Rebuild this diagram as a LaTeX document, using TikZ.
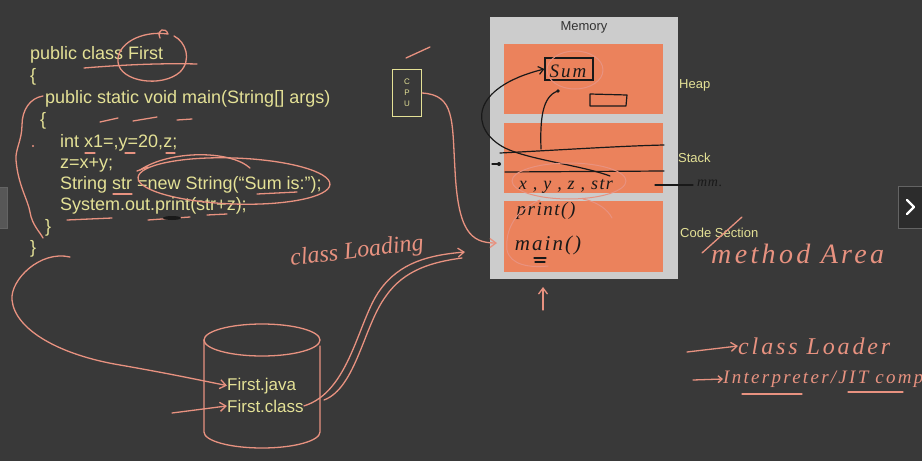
\documentclass[tikz,border=0pt]{standalone}
\usepackage{fontspec}
\setmainfont{Liberation Sans}
\newfontfamily\handfont{Liberation Serif}
\usetikzlibrary{arrows.meta}
\definecolor{bg}{RGB}{57,57,57}
\definecolor{codey}{RGB}{228,225,150}
\definecolor{memgray}{RGB}{204,204,204}
\definecolor{panelor}{RGB}{235,130,92}
\definecolor{salmon}{RGB}{232,146,128}
\definecolor{inkblack}{RGB}{25,25,25}
\definecolor{tabfill}{RGB}{44,44,44}
\definecolor{tabline}{RGB}{100,100,100}
\newcommand{\handsize}[2]{\handfont\itshape\addfontfeature{LetterSpace=#2}\fontsize{#1}{#1}\selectfont}
\tikzset{
  code/.style={anchor=base west, text=codey, font=\fontsize{18}{20}\selectfont, inner sep=0pt},
  lbl/.style={anchor=west, text=codey, font=\fontsize{13}{15}\selectfont, inner sep=0pt},
  ink/.style={draw=salmon, line width=1.3pt, line cap=round, line join=round},
  blackink/.style={draw=inkblack, line width=1.2pt, line cap=round, line join=round},
  hand/.style={text=salmon, inner sep=0pt},
  blackhand/.style={text=inkblack, inner sep=0pt},
  panelbox/.style={fill=panelor, draw=none, anchor=north west, minimum width=159pt, inner sep=0pt, outer sep=0pt},
  inkarrow/.style={-{Straight Barb[length=6pt,width=9pt]}},
}
\begin{document}
\begin{tikzpicture}[x=1pt,y=-1pt]
\useasboundingbox (0,0) rectangle (922,461);
\clip (0,0) rectangle (922,461);
\fill[bg] (0,0) rectangle (922,461);

% navigation tabs
\draw[tabline, fill=bg!85!white] (-2,187) rectangle (7,228);
\draw[tabline, fill=tabfill] (898,186) rectangle (924,228);
\draw[white, line width=2.2pt, line cap=round, line join=round] (907,200) -- (914,207) -- (907,214);

% ---------------- code ----------------
\node[code] (l1) at (30,59) {public class First};
\node[code] (l2) at (30,81) {\{};
\node[code] (l3) at (45,103) {public static void main(String[] args)};
\node[code] (l4) at (40,125) {\{};
\node[code] (l5) at (60,147) {int x1=,y=20,z;};
\node[code] (l6) at (60,168) {z=x+y;};
\node[code] (l7) at (60,189) {String str =new String(“Sum is:”);};
\node[code] (l8) at (60,210) {System.out.print(str+z);};
\node[code] (l9) at (45,232) {\}};
\node[code] (l10) at (30,253) {\}};

% annotations on code
\draw[ink] (160,38) .. controls (156,29) and (166,27) .. (168,34)
  .. controls (140,30) and (116,45) .. (118,62) .. controls (120,82) and (162,88) .. (180,72)
  .. controls (192,60) and (186,42) .. (174,36);
\draw[ink] (84,68) .. controls (120,65) and (160,63) .. (197,64);
\draw[ink] (43,96) .. controls (30,98) and (22,110) .. (22,125)
  .. controls (22,140) and (15,150) .. (16,160)
  .. controls (18,185) and (28,200) .. (30,212)
  .. controls (32,225) and (40,232) .. (43,238);
\fill[salmon] (33,146) circle (1.2);
\draw[ink] (100,122) -- (118,118);
\draw[ink] (133,121) -- (157,117);
\draw[ink] (177,120) -- (192,119);
\draw[ink] (85,153) -- (95,153);
\draw[ink] (125,153) -- (135,153);
\draw[ink] (166,153) -- (175,153);
\draw[ink] (137,171) -- (148,167);
\draw[ink] (113,194) -- (132,194);
\draw[ink] (257,194) -- (297,192);
\draw[ink] (67,220) -- (112,218);
\draw[ink] (148,220) -- (190,217);
\draw[ink] (207,215) -- (227,214);
\fill[inkblack] (172,218) ellipse [x radius=9, y radius=2];
\draw[ink, rotate around={-2:(234,181)}] (234,181) ellipse [x radius=96, y radius=23];
\draw[ink] (140,170) .. controls (170,150) and (230,150) .. (250,168);

% ---------------- memory ----------------
\node[fill=memgray, anchor=north west, minimum width=188pt, minimum height=262pt, inner sep=0pt, outer sep=0pt] (mem) at (490,17) {};
\node[text=black!80, font=\fontsize{13}{15}\selectfont, inner sep=0pt] (memlbl) at (584,27) {Memory};
\node[panelbox, minimum height=70pt] (heap) at (504,44) {};
\node[panelbox, minimum height=70pt] (stack) at (504,123) {};
\node[panelbox, minimum height=71pt] (codesec) at (504,201) {};
\node[lbl] (heaplbl) at (679,85) {Heap};
\node[lbl] (stacklbl) at (678,158) {Stack};
\node[lbl] (codelbl) at (680,233) {Code Section};

% CPU
\node[draw=codey, line width=1.2pt, minimum width=29pt, minimum height=47pt, inner sep=0pt,
      text=codey, font=\fontsize{8}{11}\selectfont, align=center] (cpu) at (407,93) {C\\P\\U};
\draw[ink] (430,47) -- (406,58);

% handwriting inside memory
\node[draw=inkblack, line width=1.2pt, minimum width=48pt, minimum height=22pt, inner sep=0pt] (sumbox) at (569,69) {};
\node[blackhand, font=\handsize{19}{10}] (sumtxt) at (568,71) {Sum};
\draw[blackink] (590,94) -- (627,95) -- (626,106) -- (590,106) -- cycle;
\draw[blackink] (500,153) .. controls (560,150) and (620,146) .. (664,145);
\draw[blackink] (505,172) -- (664,171);
\draw[blackink] (492,164) -- (499,164);
\fill[inkblack] (499,164) circle (2);
\node[blackhand, font=\handsize{18}{8}] (vars) at (566,186) {x , y , z , str};
\node[blackhand, font=\handsize{19}{8}] (printtxt) at (546,211) {print()};
\node[blackhand, font=\handsize{21}{10}] (maintxt) at (548,245) {main()};
\draw[blackink] (534,258) -- (546,258);
\draw[blackink] (535,262) -- (545,262);
\coordinate (strpt) at (610,176);
\coordinate (line1pt) at (541,149);
\draw[blackink, -{Straight Barb[length=5pt,width=8pt]}] (strpt) .. controls (580,165) and (530,160) .. (505,148)
  .. controls (470,130) and (468,88) .. (sumbox.west);
\draw[blackink] (line1pt) .. controls (540,120) and (542,96) .. (558,91);
\fill[inkblack] (558,91) circle (1.8);
\draw[blackink] (655,185) -- (693,185);
\node[text=inkblack, font=\handsize{14}{5}, inner sep=0pt, anchor=west] (mmtxt) at (697,183) {mm.};

% salmon in memory
\draw[ink, line width=1pt] (575,70) ellipse [x radius=28, y radius=19];
\draw[ink, line width=1pt] (569,181) ellipse [x radius=57, y radius=18];
\draw[ink, line width=1pt] (583,199) .. controls (598,202) and (608,210) .. (612,218);
\draw[ink, line width=1pt] (540,200) .. controls (515,210) and (505,230) .. (507,250)
  .. controls (510,265) and (530,268) .. (548,266);
\coordinate (mainin) at (497,243);
\draw[ink, inkarrow] (cpu.east) .. controls (455,95) and (452,120) .. (455,170)
  .. controls (458,230) and (470,243) .. (mainin);
\coordinate (upfrom) at (543,310);
\draw[ink, inkarrow] (upfrom) -- (543,287);

% right side notes
\draw[ink] (702,253) -- (742,217);
\node[hand, font=\handsize{28}{12}, anchor=west] (method) at (711,254) {method Area};
\coordinate (a1s) at (687,352);
\node[hand, font=\handsize{24}{12}, anchor=west] (loader) at (738,346) {class Loader};
\draw[ink, inkarrow] (a1s) -- (loader.west);
\coordinate (a2s) at (693,380);
\node[hand, font=\handsize{19}{12}, anchor=west] (interp) at (723,379) {Interpreter/JIT comp};
\draw[ink, -{Straight Barb[length=4pt,width=7pt]}] (a2s) -- (interp.west);
\draw[ink] (742,394) -- (802,394);
\draw[ink] (848,392) -- (903,392);

% ---------------- disk ----------------
\draw[ink] (262,340) ellipse [x radius=58, y radius=16];
\draw[ink] (204,340) -- (204,432) arc [start angle=180, end angle=0, x radius=58, y radius=16] -- (320,346);
\node[code, font=\fontsize{17}{19}\selectfont] (fjava) at (227,390) {First.java};
\node[code, font=\fontsize{17}{19}\selectfont] (fclass) at (227,412) {First.class};

\coordinate (loopstart) at (70,257);
\draw[ink, inkarrow] (loopstart) .. controls (40,250) and (10,280) .. (12,300)
  .. controls (15,330) and (60,355) .. (120,365)
  .. controls (160,372) and (180,376) .. (fjava.west);
\coordinate (a3s) at (172,413);
\draw[ink, inkarrow] (a3s) -- (fclass.west);

\node[hand, font=\handsize{24}{0}, rotate=7] (cload) at (357,252) {class Loading};
\coordinate (clend) at (465,252);
\draw[ink, inkarrow] (fclass.east) .. controls (350,392) and (358,320) .. (380,290)
  .. controls (400,262) and (430,255) .. (clend);
\draw[ink] (324,400) .. controls (356,388) and (364,325) .. (386,296)
  .. controls (404,270) and (432,262) .. (462,258);
\end{tikzpicture}
\end{document}
